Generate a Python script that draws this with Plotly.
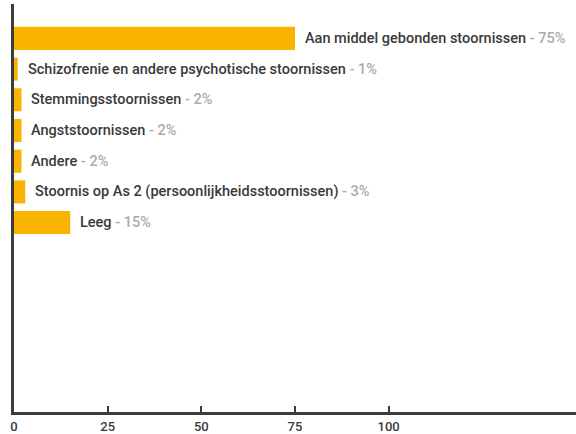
import plotly.graph_objects as go

BAR_COLOR = "#FAB400"
AXIS_COLOR = "#3C3C3C"
NAME_COLOR = "#3A3A3A"
PCT_COLOR = "#ABABAB"

categories = [
    "Aan middel gebonden stoornissen",
    "Schizofrenie en andere psychotische stoornissen",
    "Stemmingsstoornissen",
    "Angststoornissen",
    "Andere",
    "Stoornis op As 2 (persoonlijkheidsstoornissen)",
    "Leeg",
]
values = [75, 1, 2, 2, 2, 3, 15]
tick_vals = [0, 25, 50, 75, 100]

positions = list(range(len(categories)))

fig = go.Figure()
fig.add_trace(go.Bar(
    x=values, y=positions, orientation="h",
    marker=dict(color=BAR_COLOR, line=dict(width=0)),
    width=0.75, hoverinfo="skip", showlegend=False,
))

for pos, cat, val in zip(positions, categories, values):
    fig.add_annotation(
        x=val, y=pos, xref="x", yref="y",
        text=f"<span style='color:{NAME_COLOR}'>{cat}</span>"
             f"<span style='color:{PCT_COLOR}'> - {val}%</span>",
        showarrow=False, xanchor="left", yanchor="middle", xshift=8,
        font=dict(family="Roboto", size=14.5, weight=500),
    )

fig.update_layout(
    width=576, height=434,
    paper_bgcolor="white", plot_bgcolor="white",
    margin=dict(l=14, r=0, t=4, b=22),
    font=dict(family="Roboto", size=13, color=NAME_COLOR),
    xaxis=dict(
        range=[0, 150], tickvals=tick_vals, ticks="inside", ticklen=6,
        tickwidth=2, tickcolor=AXIS_COLOR, showgrid=False, zeroline=False,
        showline=True, linecolor=AXIS_COLOR, linewidth=3,
        tickfont=dict(size=13, color=NAME_COLOR, weight=500),
    ),
    yaxis=dict(
        range=[12.17, -1.12], showticklabels=False, ticks="",
        showgrid=False, zeroline=False,
        showline=True, linecolor=AXIS_COLOR, linewidth=3,
    ),
)

# the page's default body margin would shift the chart by 8px
fig.write_html("out.html", config={"displayModeBar": False},
               post_script="document.body.style.margin='0';")
